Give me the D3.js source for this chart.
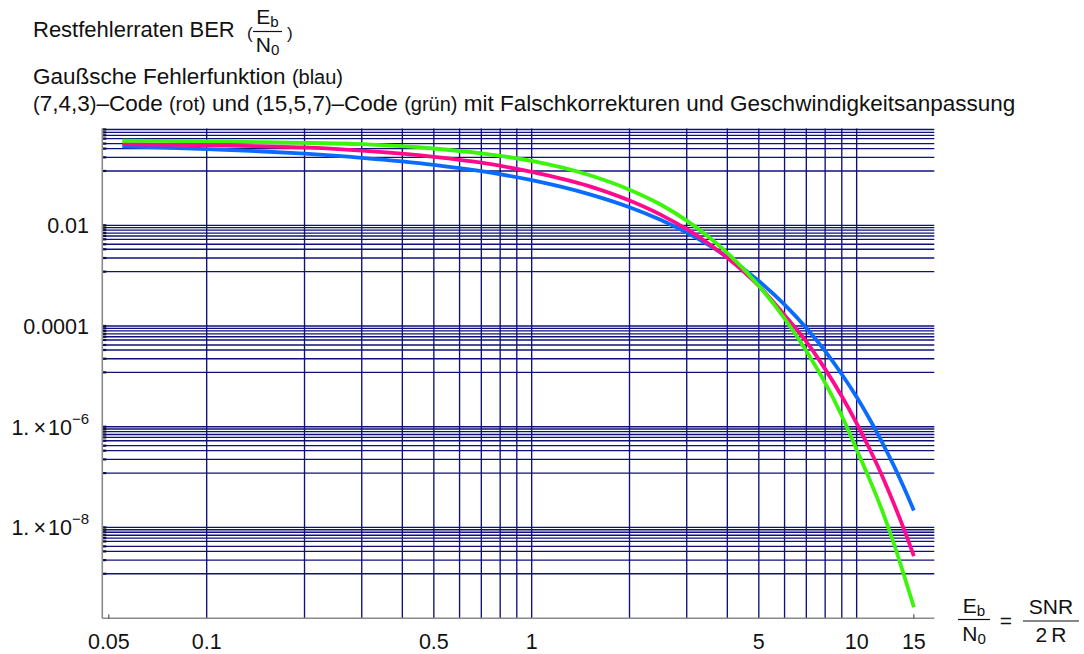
<!DOCTYPE html>
<html>
<head>
<meta charset="utf-8">
<script src="https://cdn.jsdelivr.net/npm/d3@7"></script>
<style>
  html, body { margin: 0; padding: 0; background: #fff; }
  svg { display: block; font-family: "Liberation Sans", Arial, Helvetica, sans-serif; }
</style>
</head>
<body>
<svg id="chart" width="1084" height="654"></svg>
<script>
// Eb/N0 sample points (linear ratio)
const snr = [0.055, 0.07, 0.1, 0.15, 0.2, 0.3, 0.5, 0.7, 1, 1.5, 2, 2.5, 3, 3.5, 4,
             5, 6, 7, 8, 9, 10, 11, 12, 13, 14, 15];

// Gaussian error function, uncoded (blue)
const berGauss = [0.370, 0.354, 0.327, 0.292, 0.264, 0.219, 0.159, 0.1185, 0.0786, 0.0416,
                  0.0228, 0.0127, 0.00715, 0.00407, 0.00234, 7.83e-4, 2.66e-4, 9.12e-5,
                  3.17e-5, 1.10e-5, 3.87e-6, 1.36e-6, 4.8e-7, 1.71e-7, 6.07e-8, 2.16e-8];

// (7,4,3) Hamming code (red)
const berHamming = [0.410, 0.400, 0.389, 0.370, 0.352, 0.303, 0.229, 0.175, 0.115, 0.060,
                    0.031, 0.0161, 0.00835, 0.00435, 0.00227, 6.23e-4, 1.645e-4, 4.89e-5,
                    1.39e-5, 4.02e-6, 1.17e-6, 3.44e-7, 1.03e-7, 3.02e-8, 9.03e-9, 2.7e-9];

// (15,5,7) BCH code (green)
const berBCH = [0.478, 0.473, 0.463, 0.448, 0.435, 0.408, 0.335, 0.268, 0.19, 0.100,
                0.051, 0.0256, 0.0124, 0.00594, 0.00284, 6.3e-4, 1.41e-4, 3.2e-5,
                7.4e-6, 1.65e-6, 3.5e-7, 8.5e-8, 2.1e-8, 4.9e-9, 1.1e-9, 2.6e-10];

// axis ticks and grid
const xTickValues = [0.05, 0.1, 0.5, 1, 5, 10, 15];
const xTickLabels = ["0.05", "0.1", "0.5", "1", "5", "10", "15"];
const xGridValues = [0.1, 0.2, 0.3, 0.4, 0.5, 0.6, 0.7, 0.8, 0.9,
                     1, 2, 3, 4, 5, 6, 7, 8, 9, 10];
const yMajorValues = [1, 1e-2, 1e-4, 1e-6, 1e-8];
const yGridFactors = [1, 0.9, 0.8, 0.7, 0.613, 0.527, 0.42, 0.334, 0.224, 0.12];
const yTickValues = [1e-2, 1e-4, 1e-6, 1e-8];
const yTickLabels = ["0.01", "0.0001", "1.\u2009\u00D7\u200A10", "1.\u2009\u00D7\u200A10"];
const yTickExponents = ["", "", "\u22126", "\u22128"];

const svg = d3.select("#chart");

const plot = { left: 102.3, right: 934.3, top: 128.5, bottom: 618.3 };

const x = d3.scaleLog().domain([0.04773, 17.335]).range([plot.left, plot.right]);
const y = d3.scaleLog().domain([1.566e-10, 0.8367]).range([plot.bottom, plot.top]);

const gridColor = "#10107c";

// horizontal grid lines: clusters under each major value
const hGrid = [];
yMajorValues.forEach(m => yGridFactors.forEach(f => {
  const v = m * f;
  if (v >= y.domain()[0] && v <= y.domain()[1]) hGrid.push(v);
}));

const grid = svg.append("g");
grid.selectAll("line.h").data(hGrid).join("line")
  .attr("class", "h")
  .attr("x1", plot.left).attr("x2", plot.right)
  .attr("y1", d => y(d)).attr("y2", d => y(d))
  .attr("stroke", gridColor).attr("stroke-width", 1.35);

grid.selectAll("line.v").data(xGridValues).join("line")
  .attr("class", "v")
  .attr("x1", d => x(d)).attr("x2", d => x(d))
  .attr("y1", plot.top).attr("y2", plot.bottom)
  .attr("stroke", gridColor).attr("stroke-width", 1.35);

// short tick marks on the left axis
grid.selectAll("line.yt").data(hGrid).join("line")
  .attr("class", "yt")
  .attr("x1", plot.left).attr("x2", plot.left + 4)
  .attr("y1", d => y(d)).attr("y2", d => y(d))
  .attr("stroke", "#101040").attr("stroke-width", 2.2);

// axes
const axisColor = "#8a8a8a";
svg.append("line")
  .attr("x1", plot.left).attr("x2", plot.left)
  .attr("y1", plot.top).attr("y2", plot.bottom)
  .attr("stroke", axisColor).attr("stroke-width", 1.6);
svg.append("line")
  .attr("x1", plot.left).attr("x2", plot.right)
  .attr("y1", plot.bottom).attr("y2", plot.bottom)
  .attr("stroke", axisColor).attr("stroke-width", 1.6);

// small ticks at the labelled ends of the x axis
svg.selectAll("line.xt").data([0.05, 15]).join("line")
  .attr("class", "xt")
  .attr("x1", d => x(d)).attr("x2", d => x(d))
  .attr("y1", plot.bottom).attr("y2", plot.bottom - 4)
  .attr("stroke", "#333").attr("stroke-width", 1);

// x tick labels
svg.selectAll("text.xl").data(xTickValues).join("text")
  .attr("class", "xl")
  .attr("x", d => x(d)).attr("y", 648.5)
  .attr("text-anchor", "middle")
  .attr("font-size", 21.5).attr("fill", "#111")
  .text((d, i) => xTickLabels[i]);

// y tick labels
const yl = svg.selectAll("text.yl").data(yTickValues).join("text")
  .attr("class", "yl")
  .attr("x", 89).attr("y", d => y(d) + 7.8)
  .attr("text-anchor", "end")
  .attr("font-size", 21.5).attr("fill", "#111");
yl.append("tspan").text((d, i) => yTickLabels[i]);
yl.append("tspan")
  .attr("font-size", 15).attr("dy", -11)
  .text((d, i) => yTickExponents[i]);

// curves
const line = d3.line()
  .x(d => x(d[0])).y(d => y(d[1]))
  .curve(d3.curveMonotoneX);

const series = [
  { values: berGauss,   color: "#0a6cff" },
  { values: berHamming, color: "#ff0a8c" },
  { values: berBCH,     color: "#3cf50a" }
];
svg.append("g").selectAll("path").data(series).join("path")
  .attr("d", s => line(snr.map((v, i) => [v, s.values[i]])))
  .attr("fill", "none")
  .attr("stroke", s => s.color)
  .attr("stroke-width", 3.8)
  .attr("stroke-linejoin", "round");

// header text
const head = svg.append("g").attr("fill", "#111");
head.append("text").attr("x", 33).attr("y", 37.3).attr("font-size", 22)
  .text("Restfehlerraten BER");
head.append("text").attr("x", 247).attr("y", 39).attr("font-size", 17).text("(");
head.append("text").attr("x", 287).attr("y", 39).attr("font-size", 17).text(")");

function fraction(g, cx, topY, barY, botY, x1, x2, numMain, numSub, denMain, denSub, size) {
  const t1 = g.append("text").attr("x", cx).attr("y", topY)
    .attr("text-anchor", "middle").attr("font-size", size);
  t1.append("tspan").text(numMain);
  if (numSub) t1.append("tspan").attr("font-size", size * 0.72).attr("dy", 3).text(numSub);
  g.append("line").attr("x1", x1).attr("x2", x2).attr("y1", barY).attr("y2", barY)
    .attr("stroke", "#111").attr("stroke-width", 1.2);
  const t2 = g.append("text").attr("x", cx).attr("y", botY)
    .attr("text-anchor", "middle").attr("font-size", size);
  t2.append("tspan").text(denMain);
  if (denSub) t2.append("tspan").attr("font-size", size * 0.72).attr("dy", 3).text(denSub);
}
fraction(head, 267.5, 23.5, 31.5, 52, 253, 282, "E", "b", "N", "0", 21);

const l2 = head.append("text").attr("x", 33).attr("y", 84).attr("font-size", 22.5);
l2.append("tspan").text("Gaußsche Fehlerfunktion ");
l2.append("tspan").attr("font-size", 20).text("(blau)");

const l3 = head.append("text").attr("x", 33).attr("y", 110.7).attr("font-size", 22.5);
const parts = [
  ["(", 20], ["7,4,3", 22.5], [")", 20], ["\u2013Code ", 22.5], ["(rot)", 20], [" und ", 22.5],
  ["(", 20], ["15,5,7", 22.5], [")", 20], ["\u2013Code ", 22.5], ["(grün)", 20],
  [" mit  Falschkorrekturen und Geschwindigkeitsanpassung", 22.5]
];
parts.forEach(p => l3.append("tspan").attr("font-size", p[1]).text(p[0]));

// axis caption Eb/N0 = SNR/2R
const cap = svg.append("g").attr("fill", "#111");
fraction(cap, 974, 612.5, 619.5, 640.5, 958, 990, "E", "b", "N", "0", 21);
cap.append("text").attr("x", 1006).attr("y", 628).attr("text-anchor", "middle")
  .attr("font-size", 21).text("=");
fraction(cap, 1051, 614, 621, 642, 1023, 1079, "SNR", "", "2\u2009R", "", 21);
</script>
</body>
</html>
